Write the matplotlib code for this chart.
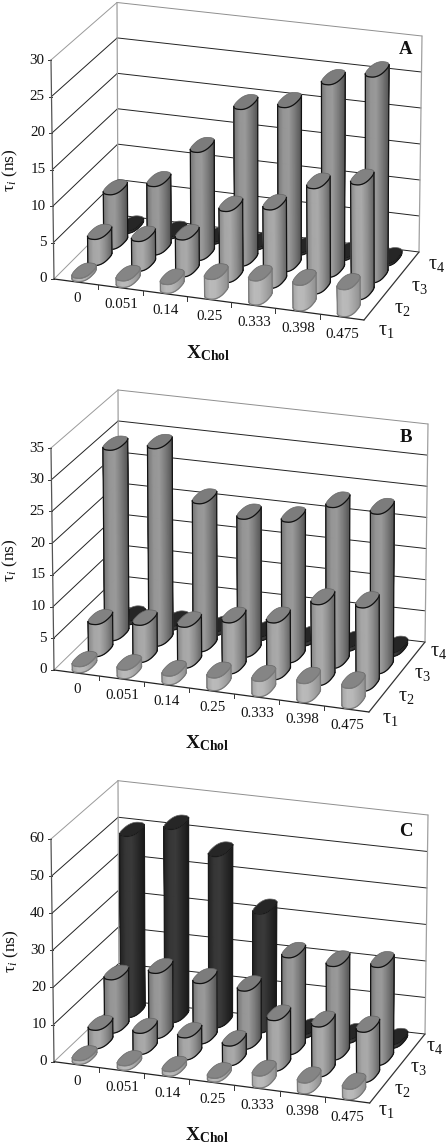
import numpy as np
import matplotlib
matplotlib.use("Agg")
import matplotlib.pyplot as plt
from matplotlib.colors import LinearSegmentedColormap
from matplotlib.patches import Polygon

plt.rcParams["font.family"] = ["Liberation Serif", "DejaVu Serif"]
plt.rcParams["mathtext.fontset"] = "custom"
plt.rcParams["mathtext.rm"] = "Liberation Serif"
plt.rcParams["mathtext.it"] = "Liberation Serif:italic"
plt.rcParams["mathtext.bf"] = "Liberation Serif:bold"

# chart data
chol = ["0", "0.051", "0.14", "0.25", "0.333", "0.398", "0.475"]
series_labels = [r"$\mathrm{\tau}_1$", r"$\mathrm{\tau}_2$", r"$\mathrm{\tau}_3$", r"$\mathrm{\tau}_4$"]

a_tau1 = [0.45, 0.9, 1.2, 2.7, 3.3, 3.5, 3.7]
a_tau2 = [3.6, 4.1, 5.1, 9.8, 10.8, 14.5, 15.8]
a_tau3 = [7.6, 9.5, 15.0, 21.7, 22.7, 26.6, 28.4]
a_tau4 = [0.3, 0.3, 0.3, 0.3, 0.3, 0.3, 0.3]

b_tau1 = [0.95, 1.35, 1.35, 2.0, 2.4, 3.0, 3.2]
b_tau2 = [5.1, 5.9, 6.5, 8.1, 9.0, 12.8, 13.2]
b_tau3 = [30.4, 31.5, 23.6, 22.0, 22.4, 25.6, 25.4]
b_tau4 = [0.6, 0.6, 0.6, 0.6, 0.6, 0.6, 0.6]

c_tau1 = [1.0, 1.2, 1.2, 1.0, 3.2, 2.9, 2.8]
c_tau2 = [5.0, 5.7, 6.0, 5.3, 13.7, 13.5, 13.6]
c_tau3 = [14.5, 17.7, 16.4, 15.8, 26.3, 25.4, 26.6]
c_tau4 = [49.4, 52.7, 46.7, 32.4, 1.0, 1.0, 1.0]

a_ticks = [0, 5, 10, 15, 20, 25, 30]
b_ticks = [0, 5, 10, 15, 20, 25, 30, 35]
c_ticks = [0, 10, 20, 30, 40, 50, 60]

# box corners in pixels: front-left, front-right, back-right, back-left
panels = [
    dict(letter="A", series=[a_tau1, a_tau2, a_tau3, a_tau4], ticks=a_ticks, span=(0, 383),
         floor=[(54, 279), (364, 320), (419, 252), (118, 215)],
         top=[(51, 60), (361, 101), (422, 36), (117, 2.5)],
         tau_off=[(15, 18.5), (24, 3.5)], ylabel=(10, 170), xlabel=(208, 353), letter_pos=(405.7, 50)),
    dict(letter="B", series=[b_tau1, b_tau2, b_tau3, b_tau4], ticks=b_ticks, span=(383, 766),
         floor=[(54, 670), (369, 712), (425, 642), (119, 606.7)],
         top=[(51, 448), (366, 490), (428, 424), (118, 390)],
         tau_off=[(14, 15), (21, 1)], ylabel=(10, 560), xlabel=(207, 743), letter_pos=(405.7, 437)),
    dict(letter="C", series=[c_tau1, c_tau2, c_tau3, c_tau4], ticks=c_ticks, span=(766, 1146),
         floor=[(54, 1061.7), (369.7, 1103), (425, 1034), (119, 1000)],
         top=[(51, 839), (366.7, 880), (428, 815), (118, 780.7)],
         tau_off=[(10, 16), (16.7, 3.7)], ylabel=(11, 951), xlabel=(207, 1135), letter_pos=(406, 831)),
]

# body shading, left to right
body_cmaps = [
    LinearSegmentedColormap.from_list("t1", ["#a4a4a4", "#bababa", "#b8b8b8", "#a6a6a6", "#929292"]),
    LinearSegmentedColormap.from_list("t2", ["#858585", "#a6a6a6", "#aaaaaa", "#8e8e8e", "#686868"]),
    LinearSegmentedColormap.from_list("t3", ["#747474", "#959595", "#9a9a9a", "#7c7c7c", "#585858"]),
    LinearSegmentedColormap.from_list("t4", ["#222222", "#363636", "#3a3a3a", "#2a2a2a", "#1a1a1a"]),
]
top_colors = ["#858585", "#828282", "#7c7c7c", "#262626"]
edge_colors = ["#7a7a7a", "#111111", "#111111", "#1a1a1a"]

RX = 0.19
RY = 0.47
# below 1 the end caps get the slightly squared look of the original
ROUNDNESS = 0.78
N_CAT = len(chol)
N_SER = 4


def project(panel, u, w, v, vmax):
    f = np.asarray(u, dtype=float) / N_CAT
    d = np.asarray(w, dtype=float) / N_SER
    h = np.asarray(v, dtype=float) / vmax
    fl, fr, br, bl = [np.array(p, dtype=float) for p in panel["floor"]]
    tfl, tfr, tbr, tbl = [np.array(p, dtype=float) for p in panel["top"]]
    res = []
    for k in range(2):
        low = (fl[k] * (1 - f) + fr[k] * f) * (1 - d) + (bl[k] * (1 - f) + br[k] * f) * d
        high = (tfl[k] * (1 - f) + tfr[k] * f) * (1 - d) + (tbl[k] * (1 - f) + tbr[k] * f) * d
        res.append(low * (1 - h) + high * h)
    return res[0], res[1]


def draw_cylinder(ax, panel, i, j, value, vmax):
    uc, wc = i + 0.5, j + 0.5
    n = 360
    t = np.linspace(0, 2 * np.pi, n + 1)
    c, s = np.cos(t), np.sin(t)
    eu = uc + RX * np.sign(c) * np.abs(c) ** ROUNDNESS
    ew = wc + RY * np.sign(s) * np.abs(s) ** ROUNDNESS
    tx, ty = project(panel, eu, ew, value, vmax)
    bx, by = project(panel, eu, ew, 0, vmax)

    # silhouette points, the front half is the one lower on the picture
    left = np.argmin(bx[:-1])
    right = np.argmax(bx[:-1])
    idx1 = (left + np.arange(((right - left) % n) + 1)) % n
    idx2 = (right + np.arange(((left - right) % n) + 1)) % n
    front = idx1 if by[idx1].mean() > by[idx2].mean() else idx2
    if bx[front[0]] > bx[front[-1]]:
        front = front[::-1]

    x0, x1 = bx[front].min(), bx[front].max()
    cmap = body_cmaps[j]
    z = 10 + (N_SER - j) * 10
    for a, b in zip(front[:-1], front[1:]):
        s = (0.5 * (bx[a] + bx[b]) - x0) / max(x1 - x0, 1e-6)
        quad = [(bx[a], by[a]), (bx[b], by[b]), (tx[b], ty[b]), (tx[a], ty[a])]
        ax.add_patch(Polygon(quad, closed=True, facecolor=cmap(s), edgecolor=cmap(s), lw=0.3, zorder=z))

    edge = edge_colors[j]
    lw = 0.9
    ax.plot(bx[front], by[front], color=edge, lw=lw, zorder=z + 1, solid_capstyle="round")
    ax.plot([bx[front[0]], tx[front[0]]], [by[front[0]], ty[front[0]]], color=edge, lw=lw, zorder=z + 1)
    ax.plot([bx[front[-1]], tx[front[-1]]], [by[front[-1]], ty[front[-1]]], color=edge, lw=lw, zorder=z + 1)
    ax.add_patch(Polygon(np.column_stack([tx, ty]), closed=True, facecolor=top_colors[j],
                         edgecolor="#666666", lw=0.5, zorder=z + 2))
    ax.plot(tx[front], ty[front], color=edge, lw=lw, zorder=z + 3)


def draw_panel(fig, panel):
    y0, y1 = panel["span"]
    ax = fig.add_axes([0, 1 - y1 / H, 1, (y1 - y0) / H])
    ax.set_xlim(0, W)
    ax.set_ylim(y1, y0)
    ax.axis("off")

    ticks = panel["ticks"]
    vmax = ticks[-1]

    def line(p, q, **kw):
        ax.plot([p[0], q[0]], [p[1], q[1]], solid_capstyle="round", zorder=kw.pop("zorder", 2), **kw)

    # wall gridlines and y ticks
    for v in ticks:
        fl = project(panel, 0, 0, v, vmax)
        bl = project(panel, 0, N_SER, v, vmax)
        br = project(panel, N_CAT, N_SER, v, vmax)
        wall = "#8f8f8f" if v == vmax else "#222222"
        side = "#9a9a9a" if v in (0, vmax) else "#222222"
        line(fl, bl, color=side, lw=0.7)
        line(bl, br, color=wall, lw=0.7)
        ax.plot([fl[0] - 3, fl[0]], [fl[1], fl[1]], color="#333333", lw=0.7, zorder=2)
        ax.text(fl[0] - 7, fl[1], str(v), ha="right", va="center", fontsize=10.8, color="#111111")

    # wall verticals
    line(project(panel, 0, 0, 0, vmax), project(panel, 0, 0, vmax, vmax), color="#555555", lw=0.9)
    line(project(panel, 0, N_SER, 0, vmax), project(panel, 0, N_SER, vmax, vmax), color="#a0a0a0", lw=0.9)
    line(project(panel, N_CAT, N_SER, 0, vmax), project(panel, N_CAT, N_SER, vmax, vmax), color="#a0a0a0", lw=0.9)

    # floor edges
    line(project(panel, 0, 0, 0, vmax), project(panel, N_CAT, 0, 0, vmax), color="#222222", lw=0.9)
    line(project(panel, N_CAT, 0, 0, vmax), project(panel, N_CAT, N_SER, 0, vmax), color="#333333", lw=0.9)

    # category ticks and labels
    for i in range(N_CAT + 1):
        if 0 < i < N_CAT:
            x, y = project(panel, i, 0, 0, vmax)
            ax.plot([x, x], [y, y + 4.5], color="#333333", lw=0.7, zorder=2)
    for i, lab in enumerate(chol):
        x, y = project(panel, i + 0.5, 0, 0, vmax)
        ax.text(x + 0.5, y + 17, lab, ha="center", va="center", fontsize=10.8, color="#111111")

    # series labels
    off0, off1 = np.array(panel["tau_off"][0]), np.array(panel["tau_off"][1])
    for j, lab in enumerate(series_labels):
        x, y = project(panel, N_CAT, j + 0.5, 0, vmax)
        o = off0 + (off1 - off0) * j / (N_SER - 1)
        ax.text(x + o[0], y + o[1], lab, ha="center", va="center", fontsize=14.5, color="#111111")

    # cylinders, back row first
    for j in range(N_SER - 1, -1, -1):
        for i, value in enumerate(panel["series"][j]):
            draw_cylinder(ax, panel, i, j, value, vmax)

    ax.text(*panel["ylabel"], r"$\mathrm{\tau}_{i}$ (ns)", rotation=90, ha="center", va="center",
            fontsize=12.5, color="#111111")
    ax.text(*panel["xlabel"], r"$\mathbf{X_{Chol}}$", ha="center", va="center", fontsize=14, color="#111111")
    ax.text(*panel["letter_pos"], panel["letter"], ha="center", va="center", fontsize=13.5,
            fontweight="bold", color="#111111", zorder=100)


W, H = 448, 1146
fig = plt.figure(figsize=(W / 100, H / 100), dpi=100)
for panel in panels:
    draw_panel(fig, panel)
fig.savefig("out.png", dpi=100)
